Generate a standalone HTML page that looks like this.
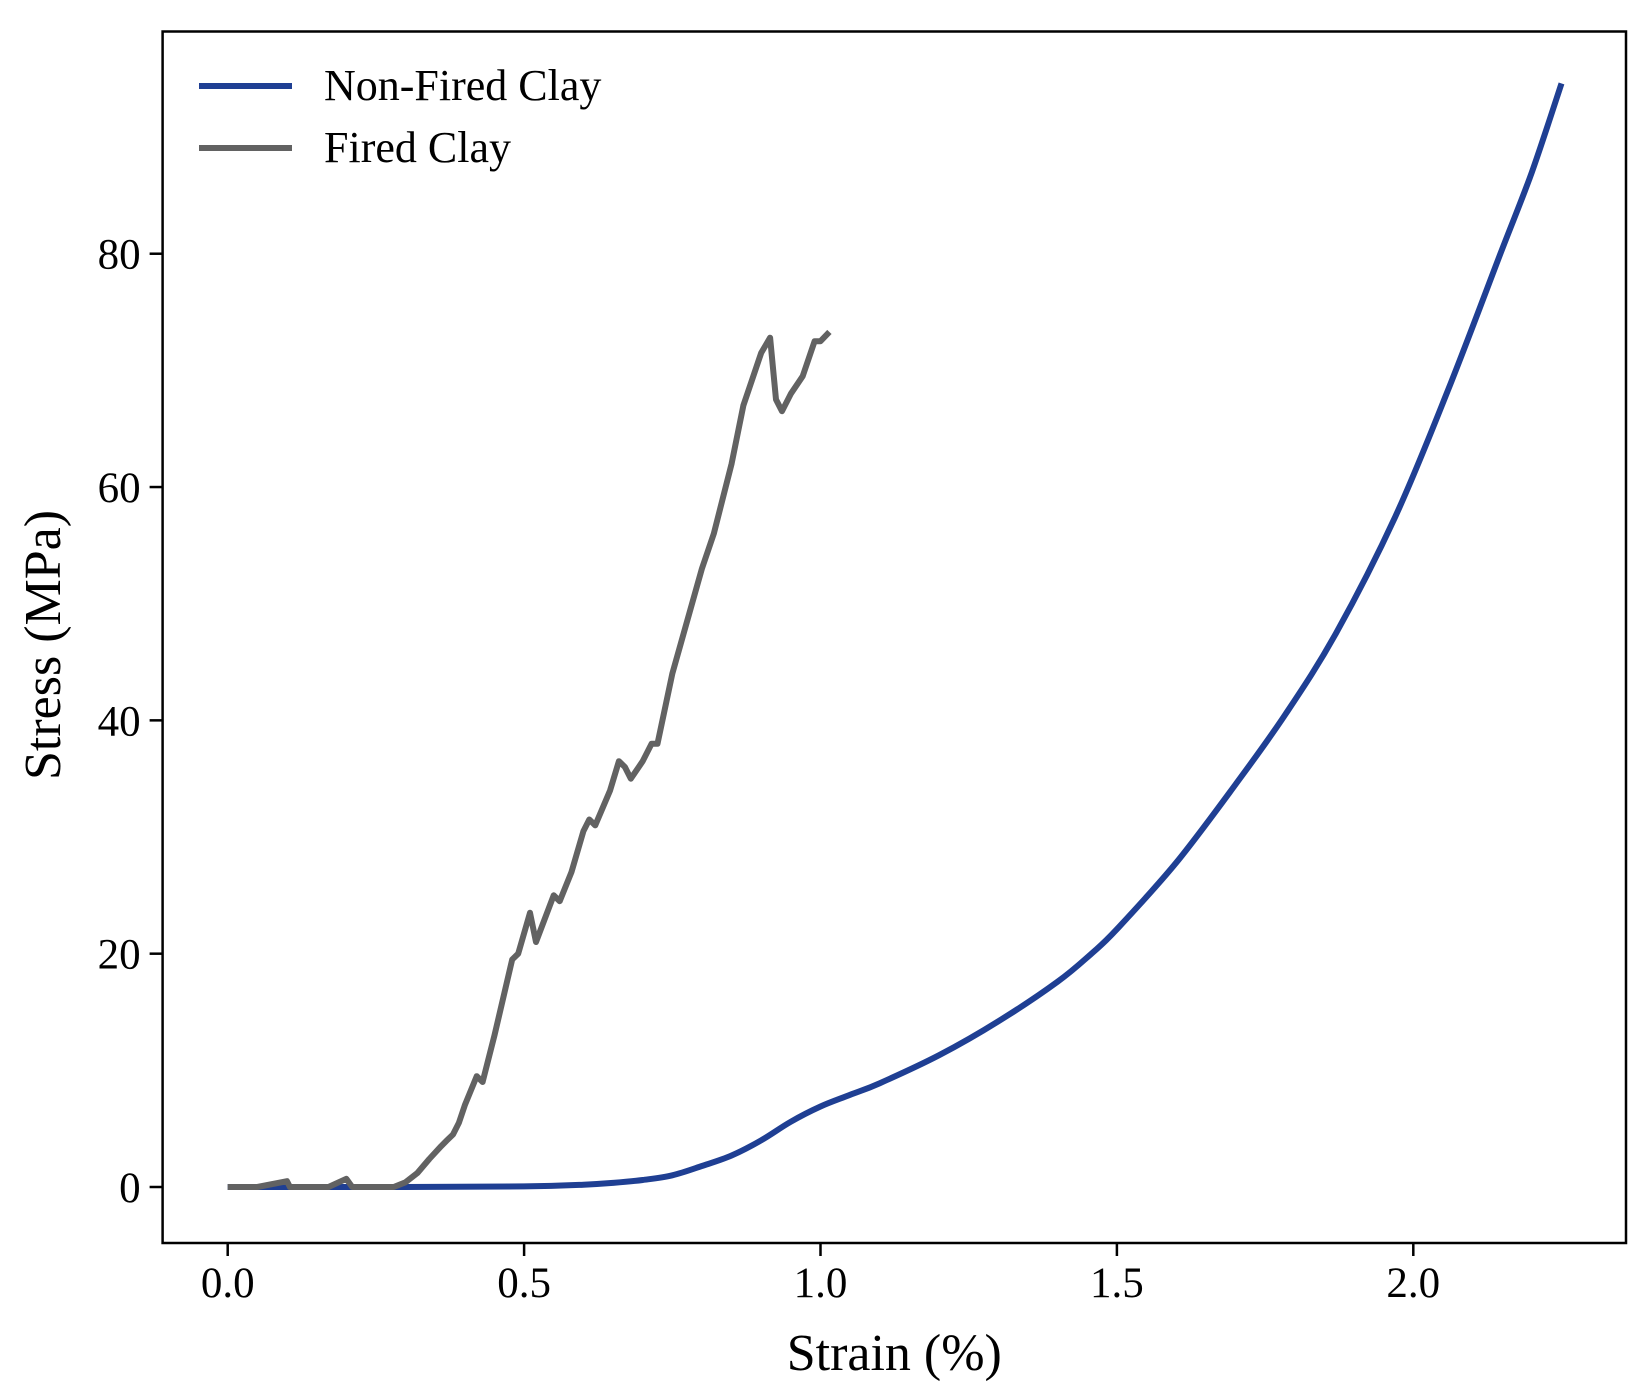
<!DOCTYPE html>
<html><head><meta charset="utf-8"><style>
html,body{margin:0;padding:0;background:#fff;}
svg{display:block;font-family:"Liberation Serif",serif;}
</style></head><body>
<svg id="chart" width="1645" height="1390" viewBox="0 0 1645 1390" xmlns="http://www.w3.org/2000/svg">
<rect x="0" y="0" width="1645" height="1390" fill="#fff"/>
<g id="plot"></g>
</svg>
<script>
const xTicks = [0.0, 0.5, 1.0, 1.5, 2.0];
const xTickLabels = ["0.0", "0.5", "1.0", "1.5", "2.0"];
const yTicks = [0, 20, 40, 60, 80];
const yTickLabels = ["0", "20", "40", "60", "80"];
const seriesNames = ["Non-Fired Clay", "Fired Clay"];
const nonFiredX = [0, 0.3, 0.5, 0.6, 0.65, 0.7, 0.75, 0.8, 0.85, 0.9, 0.95, 1.0, 1.05, 1.1, 1.2, 1.3, 1.4, 1.457, 1.5, 1.6, 1.7, 1.784, 1.87, 1.97, 2.06, 2.147, 2.2, 2.25];
const nonFiredY = [0, 0, 0.05, 0.2, 0.35, 0.6, 1.0, 1.8, 2.7, 4.0, 5.6, 6.9, 7.9, 8.9, 11.3, 14.2, 17.6, 20, 22.1, 27.8, 34.5, 40.5, 47.5, 57.5, 68.5, 80, 87, 94.6];
const firedX = [0, 0.05, 0.1, 0.105, 0.17, 0.2, 0.21, 0.28, 0.3, 0.32, 0.34, 0.36, 0.37, 0.38, 0.39, 0.4, 0.42, 0.43, 0.45, 0.48, 0.49, 0.51, 0.52, 0.55, 0.56, 0.58, 0.6, 0.61, 0.62, 0.645, 0.66, 0.67, 0.68, 0.7, 0.715, 0.725, 0.75, 0.8, 0.82, 0.85, 0.87, 0.9, 0.915, 0.925, 0.935, 0.95, 0.97, 0.99, 1.0, 1.015];
const firedY = [0, 0, 0.5, 0, 0, 0.7, 0, 0, 0.4, 1.2, 2.4, 3.5, 4, 4.5, 5.5, 7, 9.5, 9, 13, 19.5, 20, 23.5, 21, 25, 24.5, 27, 30.5, 31.5, 31, 34, 36.5, 36, 35, 36.5, 38, 38, 44, 53, 56, 62, 67, 71.5, 72.8, 67.5, 66.5, 68, 69.5, 72.5, 72.5, 73.3];

const L=162.6, R=1626, T=31.5, B=1243;
const X0=227.7, XPU=592.8, Y0=1187, YPU=11.666;
const sx = v => X0 + v*XPU;
const sy = v => Y0 - v*YPU;
const NS="http://www.w3.org/2000/svg";
const g=document.getElementById('plot');
function mk(tag, attrs){const e=document.createElementNS(NS,tag);for(const k in attrs)e.setAttribute(k,attrs[k]);g.appendChild(e);return e;}

function drawLine(xs, ys, color, name, smooth){
  const P=xs.map((x,i)=>[sx(x),sy(ys[i])]);
  let d='M'+P[0][0].toFixed(1)+' '+P[0][1].toFixed(1);
  for(let i=1;i<P.length;i++){
    if(smooth){
      const p0=P[Math.max(0,i-2)],p1=P[i-1],p2=P[i],p3=P[Math.min(P.length-1,i+1)];
      const c1=[p1[0]+(p2[0]-p0[0])/6,p1[1]+(p2[1]-p0[1])/6];
      const c2=[p2[0]-(p3[0]-p1[0])/6,p2[1]-(p3[1]-p1[1])/6];
      d+='C'+c1[0].toFixed(1)+' '+c1[1].toFixed(1)+' '+c2[0].toFixed(1)+' '+c2[1].toFixed(1)+' '+p2[0].toFixed(1)+' '+p2[1].toFixed(1);
    } else d+='L'+P[i][0].toFixed(1)+' '+P[i][1].toFixed(1);
  }
  const p=mk('path',{d:d,fill:'none',stroke:color,'stroke-width':6,'stroke-linejoin':'round','stroke-linecap':'butt'});
  
  
}
drawLine(nonFiredX, nonFiredY, '#1f3f93', 'non-fired-clay-line', true);
drawLine(firedX, firedY, '#626262', 'fired-clay-line', false);

const frame=mk('rect',{x:L,y:T,width:R-L,height:B-T,fill:'none',stroke:'#000','stroke-width':2.5});



xTicks.forEach((v,i)=>{
  const t=mk('line',{x1:sx(v),x2:sx(v),y1:B,y2:B+13,stroke:'#000','stroke-width':2.5});
  
  
  const tx=mk('text',{x:sx(v),y:B+54,'text-anchor':'middle','font-size':43,fill:'#000'});
  tx.textContent=xTickLabels[i];
  
  
});
yTicks.forEach((v,i)=>{
  const t=mk('line',{x1:L-13,x2:L,y1:sy(v),y2:sy(v),stroke:'#000','stroke-width':2.5});
  
  
  const tx=mk('text',{x:L-22,y:sy(v)+15,'text-anchor':'end','font-size':43,fill:'#000'});
  tx.textContent=yTickLabels[i];
  
  
});

const xt=mk('text',{x:(L+R)/2,y:1370,'text-anchor':'middle','font-size':52,fill:'#000'});
xt.textContent='Strain (%)';


const yt=mk('text',{x:0,y:0,'text-anchor':'middle','font-size':52,fill:'#000',transform:'translate(60,645) rotate(-90)'});
yt.textContent='Stress (MPa)';



const colors=['#1f3f93','#626262'];
const legY=[86,148];
seriesNames.forEach((n,i)=>{
  const l=mk('line',{x1:199,x2:292,y1:legY[i],y2:legY[i],stroke:colors[i],'stroke-width':6});
  
  
  const t=mk('text',{x:324,y:legY[i]+14,'font-size':44,fill:'#000'});
  t.textContent=n;
  
  
});
</script>
</body></html>
